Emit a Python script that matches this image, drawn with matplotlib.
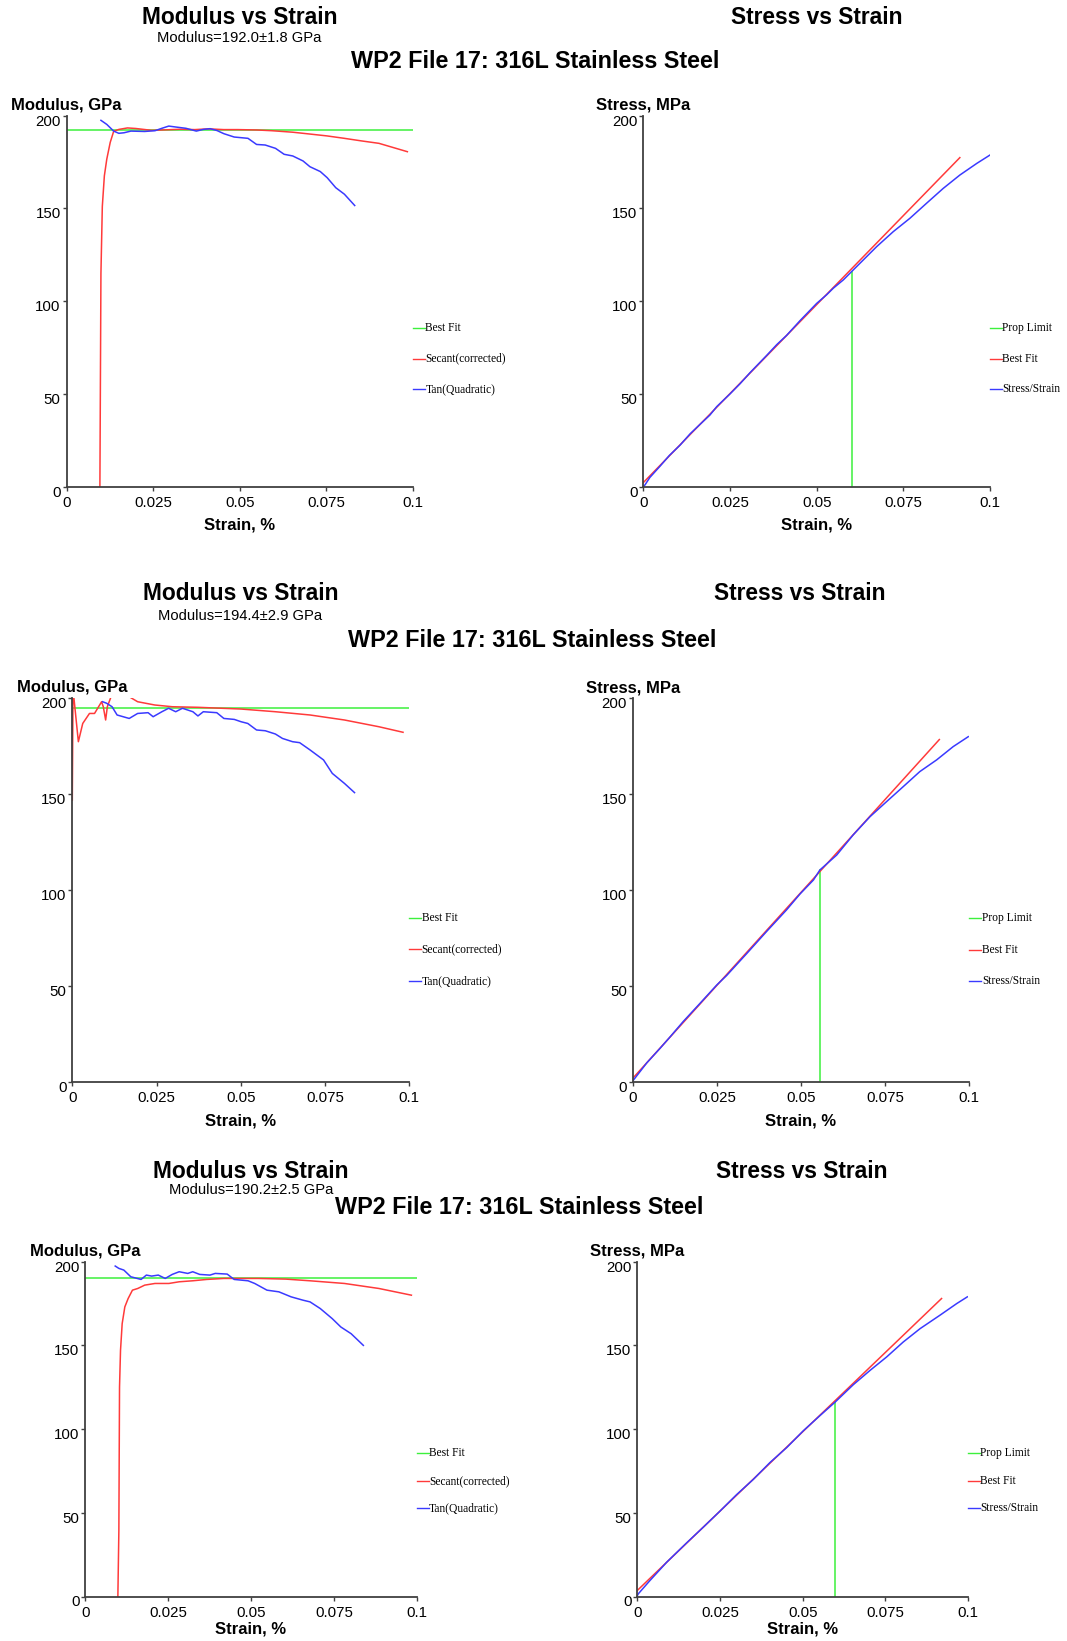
import matplotlib
matplotlib.use('Agg')
import matplotlib.pyplot as plt
import matplotlib.transforms as mtransforms

W, H = 1067, 1641
plt.rcParams['font.family'] = ['Liberation Sans', 'DejaVu Sans']

GREEN = '#3cf03c'
RED = '#ff3a3a'
BLUE = '#3a3aff'
AXC = '#404040'

# ---------------- data ----------------
x_ticks = [0, 0.025, 0.05, 0.075, 0.1]
x_ticklabels = ['0', '0.025', '0.05', '0.075', '0.1']
y_ticks = [0, 50, 100, 150, 200]
y_ticklabels = ['0', '50', '100', '150', '200']

sample_title = 'WP2 File 17: 316L Stainless Steel'
mod_title = 'Modulus vs Strain'
stress_title = 'Stress vs Strain'
moduli = [192.0, 194.4, 190.2]
moduli_err = [1.8, 2.9, 2.5]
mod_labels = ['Best Fit', 'Secant(corrected)', 'Tan(Quadratic)']
stress_labels = ['Prop Limit', 'Best Fit', 'Stress/Strain']

# --- test 1 ---
t1_sec_x = [0.00964, 0.00994, 0.01034, 0.01093, 0.01163, 0.01262, 0.01362, 0.01511, 0.01759, 0.0200,
            0.0246, 0.0290, 0.0330, 0.0370, 0.0410, 0.0454, 0.0494, 0.0550, 0.0593, 0.0653,
            0.0703, 0.0752, 0.0802, 0.0852, 0.0902, 0.0984]
t1_sec_y = [0, 114.8, 151.0, 167.5, 176.5, 185.5, 191.5, 192.5, 193.3, 193.0,
            192.0, 192.3, 192.6, 192.4, 192.8, 192.4, 192.4, 192.2, 191.8, 191.0,
            190.0, 189.0, 187.7, 186.3, 185.0, 180.5]
t1_tan_x = [0.00994, 0.01163, 0.01362, 0.01511, 0.0166, 0.01859, 0.02256, 0.02555, 0.02753, 0.02952,
            0.03151, 0.03449, 0.03748, 0.03946, 0.04145, 0.04344, 0.04543, 0.04841, 0.05239, 0.05487,
            0.05736, 0.06034, 0.06282, 0.06531, 0.06829, 0.07028, 0.07326, 0.07525, 0.07773, 0.08022,
            0.0832]
t1_tan_y = [197.4, 195.2, 191.6, 190.4, 190.7, 191.6, 191.4, 191.8, 193.1, 194.3,
            193.8, 193.1, 191.6, 192.5, 192.9, 191.9, 190.2, 188.4, 187.7, 184.4,
            184.1, 182.3, 179.1, 178.2, 175.5, 172.4, 169.8, 166.5, 161.1, 157.6,
            151.5]
t1_fit_x = [0.0, 0.0913]
t1_fit_y = [2.2, 177.4]
t1_prop_x = 0.0601
t1_prop_y = 116.0
t1_ss_x = [0.0, 0.0005, 0.0019, 0.0048, 0.0075, 0.0106, 0.0135, 0.0163, 0.0192, 0.0212, 0.025, 0.0279,
           0.0308, 0.0356, 0.0385, 0.0413, 0.0452, 0.05, 0.0529, 0.0548, 0.0577, 0.0601, 0.0673,
           0.0721, 0.0769, 0.0817, 0.0865, 0.0913, 0.0962, 0.1]
t1_ss_y = [0.0, 1.0, 5.0, 11.0, 16.8, 22.4, 28.5, 33.5, 38.6, 43.2, 50.0, 55.5,
           61.5, 70.8, 76.6, 81.5, 89.5, 98.8, 103.5, 107.0, 111.5, 116.0, 129.4,
           137.5, 144.7, 152.8, 160.8, 168.0, 174.3, 178.8]

# --- test 2 ---
t2_sec_x = [0.0, 0.0002, 0.0005, 0.0018, 0.0031, 0.0051, 0.0066, 0.0087, 0.0092, 0.0099,
            0.0104, 0.0115, 0.013, 0.015, 0.0169, 0.0194, 0.0245, 0.0297, 0.0373, 0.0501,
            0.0603, 0.0706, 0.0808, 0.0910, 0.0982]
t2_sec_y = [146.7, 200.0, 199.6, 177.1, 186.6, 191.8, 191.8, 197.9, 195.3, 188.4,
            195.3, 200.5, 205.0, 205.0, 200.5, 197.9, 196.2, 195.3, 195.0, 194.1,
            192.7, 191.0, 188.4, 184.9, 182.0]
t2_tan_x = [0.009, 0.0102, 0.0118, 0.0133, 0.0169, 0.0194, 0.0225, 0.024, 0.0266, 0.0286,
            0.0307, 0.0327, 0.0358, 0.0373, 0.0389, 0.0429, 0.045, 0.0481, 0.0501, 0.0521,
            0.0547, 0.0573, 0.0603, 0.0624, 0.0654, 0.0675, 0.0706, 0.0746, 0.0772, 0.0808,
            0.0838]
t2_tan_y = [197.9, 197.1, 195.3, 191.0, 189.2, 191.8, 192.2, 190.1, 192.7, 194.5,
            192.7, 194.5, 192.7, 190.5, 192.7, 192.2, 189.2, 188.7, 187.5, 186.6,
            183.2, 182.8, 181.1, 178.8, 177.1, 176.6, 172.8, 167.6, 160.6, 155.4,
            150.6]
t2_fit_x = [0.0, 0.0911]
t2_fit_y = [1.9, 178.5]
t2_prop_x = 0.0556
t2_prop_y = 110.5
t2_ss_x = [0.0, 0.0004, 0.0042, 0.0081, 0.0111, 0.015, 0.02, 0.025, 0.0279, 0.0339, 0.0398, 0.0457,
           0.0497, 0.0537, 0.0556, 0.0606, 0.0655, 0.0705, 0.0754, 0.0804, 0.0853, 0.0903,
           0.0952, 0.0997]
t2_ss_y = [0.5, 1.4, 10.0, 17.5, 23.5, 31.5, 41.0, 50.6, 55.5, 67.0, 78.5, 89.7,
           98.0, 105.3, 110.5, 118.3, 128.8, 138.3, 146.1, 154.0, 161.8, 167.9,
           174.8, 180.0]

# --- test 3 ---
t3_sec_x = [0.0098, 0.0101, 0.0103, 0.0106, 0.0111, 0.0119, 0.0129, 0.0142, 0.0158, 0.0179,
            0.021, 0.0252, 0.0283, 0.0324, 0.0366, 0.0418, 0.0522, 0.0605, 0.0678, 0.0782,
            0.0886, 0.0984]
t3_sec_y = [0.0, 39.2, 125.1, 147.1, 163.0, 173.0, 178.0, 183.0, 184.0, 186.0,
            187.0, 187.0, 188.0, 188.6, 189.4, 190.0, 190.0, 189.6, 188.6, 187.0,
            184.0, 180.0]
t3_tan_x = [0.009, 0.0101, 0.0116, 0.0137, 0.0168, 0.0184, 0.02, 0.022, 0.0241, 0.0262,
            0.0283, 0.0309, 0.0324, 0.0345, 0.0376, 0.0392, 0.0428, 0.0449, 0.0491, 0.0511,
            0.0548, 0.0584, 0.0621, 0.0657, 0.0678, 0.0709, 0.0745, 0.0771, 0.0802, 0.0839]
t3_tan_y = [197.4, 196.0, 195.0, 191.0, 189.4, 192.0, 191.4, 192.0, 190.0, 192.4,
            194.0, 193.0, 194.0, 192.4, 192.0, 193.0, 192.6, 189.4, 188.6, 187.0,
            183.0, 182.0, 179.0, 177.0, 176.0, 172.0, 166.0, 161.0, 157.0, 150.0]
t3_fit_x = [0.0, 0.092]
t3_fit_y = [3.6, 178.0]
t3_prop_x = 0.0598
t3_prop_y = 116.1
t3_ss_x = [0.0, 0.0003, 0.0038, 0.0089, 0.0149, 0.02, 0.025, 0.03, 0.0351, 0.0401, 0.0452, 0.0502,
           0.0552, 0.0598, 0.0653, 0.0704, 0.0754, 0.0804, 0.0855, 0.0915, 0.0966, 0.0998]
t3_ss_y = [0.5, 1.6, 9.5, 20.5, 32.0, 41.5, 51.0, 60.8, 70.0, 80.0, 89.0, 99.0,
           108.0, 116.1, 126.5, 135.1, 143.1, 152.0, 160.0, 168.0, 175.0, 179.0]

tests = [
    dict(sec=(t1_sec_x, t1_sec_y), tan=(t1_tan_x, t1_tan_y), fit=(t1_fit_x, t1_fit_y),
         prop=(t1_prop_x, t1_prop_y), ss=(t1_ss_x, t1_ss_y)),
    dict(sec=(t2_sec_x, t2_sec_y), tan=(t2_tan_x, t2_tan_y), fit=(t2_fit_x, t2_fit_y),
         prop=(t2_prop_x, t2_prop_y), ss=(t2_ss_x, t2_ss_y)),
    dict(sec=(t3_sec_x, t3_sec_y), tan=(t3_tan_x, t3_tan_y), fit=(t3_fit_x, t3_fit_y),
         prop=(t3_prop_x, t3_prop_y), ss=(t3_ss_x, t3_ss_y)),
]

# ---------------- layout (pixels) ----------------
mod_boxes = [(66.5, 115.5, 412.9, 486.7), (72.3, 697.7, 409.1, 1082.0), (85.4, 1261.7, 416.7, 1596.5)]
str_boxes = [(643.3, 115.7, 990.0, 486.7), (632.7, 698.3, 969.3, 1082.0), (637.3, 1261.7, 968.0, 1596.5)]
xlabel_gap = [38, 39, 33]
mod_title_pos = [(240, 18), (241, 593.5), (251, 1172)]
sub_pos = [(239, 37.5), (240.5, 615.5), (250.7, 1190.5)]
str_title_pos = [(817, 18), (800, 593.5), (802, 1172)]
wp_pos = [(535, 61), (532, 641), (519, 1208)]
legend_y = [85.5, 69.0, 52.6]

fig = plt.figure(figsize=(W / 100, H / 100), dpi=100)


def fx(x):
    return x / W


def fy(y):
    return 1 - y / H


def make_ax(box, ylab, gap):
    l, t, r, b = box
    ax = fig.add_axes([l / W, 1 - b / H, (r - l) / W, (b - t) / H])
    ax.set_xlim(0, 0.1)
    ax.set_ylim(0, 200)
    for s in ['top', 'right']:
        ax.spines[s].set_visible(False)
    for s in ['left', 'bottom']:
        ax.spines[s].set_color(AXC)
        ax.spines[s].set_linewidth(1.3)
    ax.set_xticks(x_ticks)
    ax.set_xticklabels(x_ticklabels)
    ax.set_yticks(y_ticks)
    ax.set_yticklabels(y_ticklabels)
    ax.tick_params(axis='both', direction='out', length=3, width=1, color=AXC, labelsize=10.8)
    ax.tick_params(axis='x', pad=3.5)
    ax.tick_params(axis='y', pad=1.2)
    shift = mtransforms.ScaledTranslation(0, -4.5 / 100, fig.dpi_scale_trans)
    for lab in ax.get_yticklabels():
        lab.set_transform(lab.get_transform() + shift)
    ax.patch.set_alpha(0)
    fig.text(fx(l), fy(t - 10.5), ylab, ha='center', va='center', fontsize=12, fontweight='bold')
    fig.text(fx((l + r) / 2), fy(b + gap), 'Strain, %', ha='center', va='center',
             fontsize=12, fontweight='bold')
    return ax


def add_legend(ax, box, labels, colors):
    l, t, r, b = box
    axw = r - l
    tr = mtransforms.blended_transform_factory(ax.transAxes, ax.transData)
    for lab, c, yv in zip(labels, colors, legend_y):
        ax.plot([1.0, 1.0 + 12 / axw], [yv, yv], color=c, lw=1.0, transform=tr, clip_on=False)
        ax.text(1.0 + 12.5 / axw, yv, lab, transform=tr, fontsize=8.3, family='Liberation Serif',
                va='center', ha='left')


for i, d in enumerate(tests):
    # Modulus vs strain
    ax = make_ax(mod_boxes[i], 'Modulus, GPa', xlabel_gap[i])
    ax.plot([0, 0.1], [moduli[i], moduli[i]], color=GREEN, lw=1.1)
    ax.plot(d['sec'][0], d['sec'][1], color=RED, lw=1.1)
    ax.plot(d['tan'][0], d['tan'][1], color=BLUE, lw=1.1)
    add_legend(ax, mod_boxes[i], mod_labels, [GREEN, RED, BLUE])

    # Stress vs strain
    ax2 = make_ax(str_boxes[i], 'Stress, MPa', xlabel_gap[i])
    ax2.plot([d['prop'][0], d['prop'][0]], [0, d['prop'][1]], color=GREEN, lw=1.1)
    ax2.plot(d['fit'][0], d['fit'][1], color=RED, lw=1.1)
    ax2.plot(d['ss'][0], d['ss'][1], color=BLUE, lw=1.1)
    add_legend(ax2, str_boxes[i], stress_labels, [GREEN, RED, BLUE])

    # titles
    fig.text(fx(mod_title_pos[i][0]), fy(mod_title_pos[i][1]), mod_title, ha='center', va='center',
             fontsize=16.4, fontweight='bold')
    fig.text(fx(sub_pos[i][0]), fy(sub_pos[i][1]),
             'Modulus=%.1f\u00b1%.1f GPa' % (moduli[i], moduli_err[i]),
             ha='center', va='center', fontsize=10.6)
    fig.text(fx(str_title_pos[i][0]), fy(str_title_pos[i][1]), stress_title, ha='center', va='center',
             fontsize=16.4, fontweight='bold')
    fig.text(fx(wp_pos[i][0]), fy(wp_pos[i][1]), sample_title, ha='center', va='center',
             fontsize=16.8, fontweight='bold')

fig.savefig('out.png', dpi=100)
